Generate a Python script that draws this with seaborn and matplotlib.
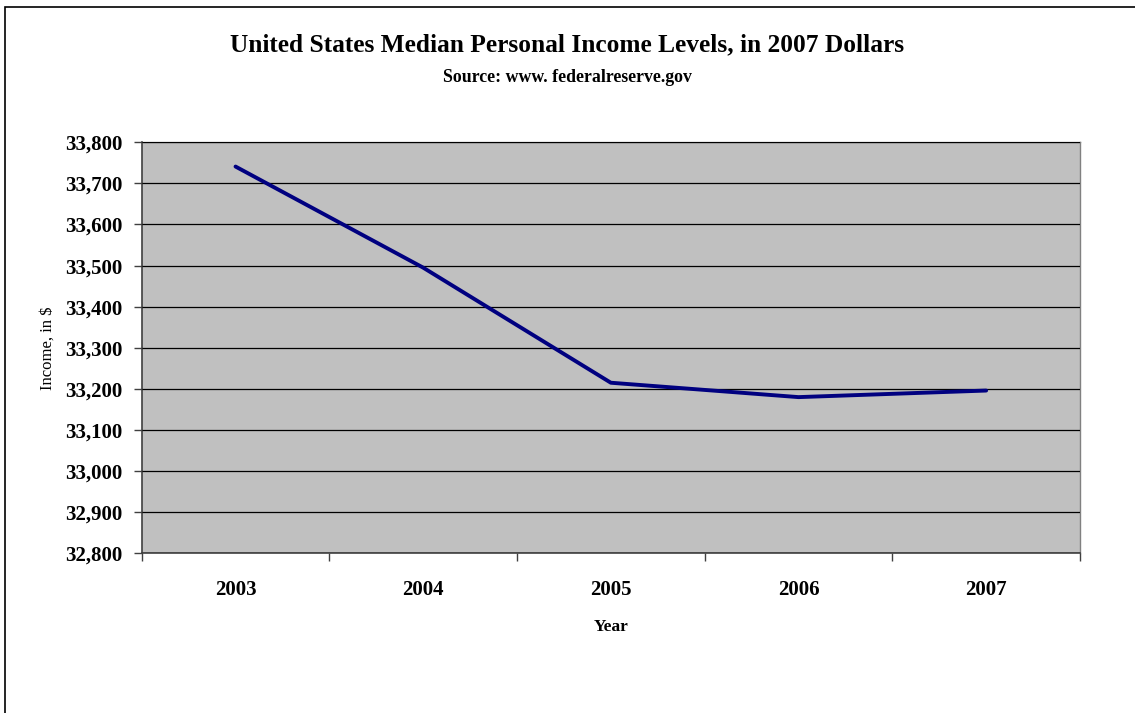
import matplotlib
matplotlib.use("Agg")
import matplotlib.pyplot as plt
import matplotlib.patches as mpatches
from matplotlib.ticker import FuncFormatter, FixedLocator, MultipleLocator
import seaborn as sns
import pandas as pd

# ---- data ----
years = ["2003", "2004", "2005", "2006", "2007"]
income = [33741, 33495, 33215, 33180, 33196]
y_min, y_max, y_step = 32800, 33800, 100

title = "United States Median Personal Income Levels, in 2007 Dollars"
subtitle = "Source: www. federalreserve.gov"
x_label = "Year"
y_label = "Income, in $"

df = pd.DataFrame({"Year": years, "Income": income})

sns.set_theme(style="white")
plt.rcParams["font.family"] = ["Liberation Serif", "DejaVu Serif"]
plt.rcParams["text.color"] = "black"
plt.rcParams["axes.labelcolor"] = "black"
plt.rcParams["xtick.color"] = "black"
plt.rcParams["ytick.color"] = "black"

fig = plt.figure(figsize=(11.35, 7.13), dpi=100)
fig.patch.set_facecolor("white")

# outer chart frame
fig.patches.append(mpatches.Rectangle((4.5 / 1135, -0.1), 1.2, 1 - 7 / 713 + 0.1,
                                      transform=fig.transFigure, fill=False,
                                      edgecolor="black", linewidth=1.2))

ax = fig.add_axes([141.7 / 1135, 1 - 553.3 / 713, (1080 - 141.7) / 1135, (553.3 - 142.3) / 713])
ax.set_facecolor("#C0C0C0")

df["pos"] = range(len(years))
sns.lineplot(data=df, x="pos", y="Income", ax=ax, color="#000080", linewidth=2.8,
             solid_capstyle="round", solid_joinstyle="round", zorder=3)

ax.set_xlim(-0.5, len(years) - 0.5)
ax.set_ylim(y_min, y_max)

# y axis
ax.yaxis.set_major_locator(MultipleLocator(y_step))
ax.yaxis.set_major_formatter(FuncFormatter(lambda v, p: f"{int(round(v)):,}"))
ax.tick_params(axis="y", which="major", left=True, length=6, width=1, color="#404040",
               direction="out", pad=8, labelsize=15, labelcolor="black")
for lab in ax.get_yticklabels():
    lab.set_fontweight("bold")

# gridlines
ax.grid(axis="y", color="black", linewidth=0.9)
ax.set_axisbelow(False)
for line in ax.get_ygridlines():
    line.set_zorder(2)

# x axis: boundary ticks, labels centered in categories
ax.xaxis.set_major_locator(FixedLocator([i - 0.5 for i in range(len(years) + 1)]))
ax.xaxis.set_major_formatter(FuncFormatter(lambda v, p: ""))
ax.xaxis.set_minor_locator(FixedLocator(list(range(len(years)))))
ax.set_xticklabels(years, minor=True)
ax.tick_params(axis="x", which="major", bottom=True, length=6, width=1, color="#404040",
               direction="out")
ax.tick_params(axis="x", which="minor", bottom=True, length=0, pad=19, labelsize=15,
               labelcolor="black")
for lab in ax.get_xticklabels(minor=True):
    lab.set_fontweight("bold")

for side in ["left", "bottom"]:
    ax.spines[side].set_color("#404040")
    ax.spines[side].set_linewidth(1.2)
for side in ["top", "right"]:
    ax.spines[side].set_color("#808080")
    ax.spines[side].set_linewidth(1.0)

ax.set_xlabel(x_label, fontsize=12.5, fontweight="bold", color="black")
ax.xaxis.set_label_coords(0.5, -(619 - 553.3) / 411)
ax.set_ylabel(y_label, fontsize=12, fontweight="normal", color="black")
ax.yaxis.set_label_coords((56 - 141.7) / 938.3, 0.5)

fig.text(0.5, 1 - 45 / 713, title, ha="center", va="center", fontsize=18.3, fontweight="bold")
fig.text(0.5, 1 - 78 / 713, subtitle, ha="center", va="center", fontsize=12.8, fontweight="bold")

fig.savefig("out.png", dpi=100)
